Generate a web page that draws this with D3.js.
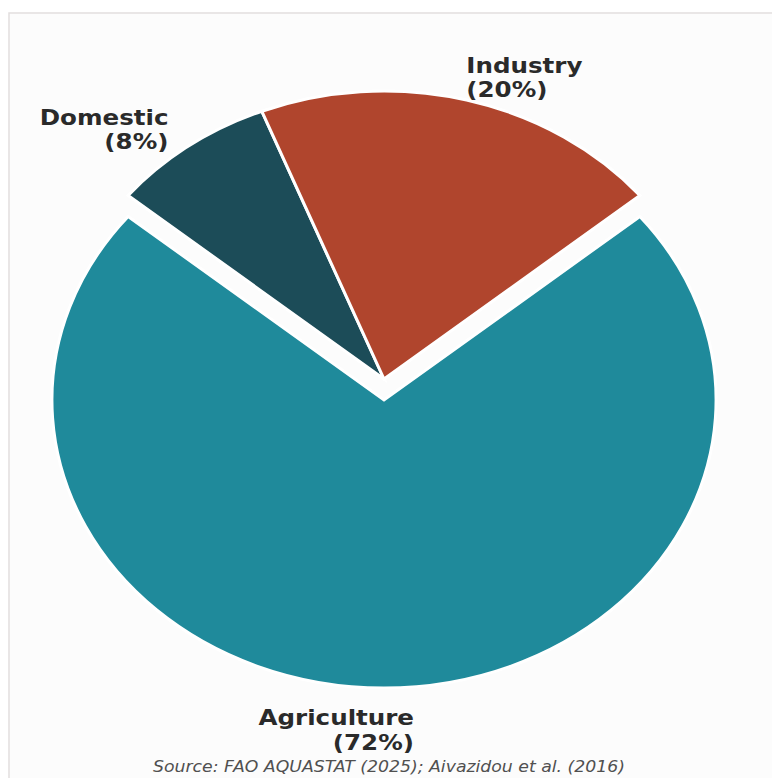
<!DOCTYPE html>
<html>
<head>
<meta charset="utf-8">
<script src="https://cdn.jsdelivr.net/npm/d3@7"></script>
<style>
  body { margin: 0; background: #fff; }
  svg { display: block; }
</style>
</head>
<body>
<div id="pie-chart"></div>
<script>
// water withdrawal shares by sector
const sectors = ["Domestic", "Industry", "Agriculture"]
const shares = [8, 20, 72]
const colors = ["#1c4c58", "#b0452d", "#1f8a9b"]
const exploded = [0, 0, 0.073]
const sourceNote = "Source: FAO AQUASTAT (2025); Aivazidou et al. (2016)"

const data = sectors.map((s, i) => ({ sector: s, share: shares[i], color: colors[i], explode: exploded[i] }))

const width = 772
const height = 778
const cx = 384
const cy = 379
const radius = 288
const sx = 1.153   // the picture is stretched sideways

const svg = d3.select("#pie-chart")
  .append("svg")
  .attr("width", width)
  .attr("height", height)

// faint frame of the original screenshot
svg.append("rect")
  .attr("x", 9)
  .attr("y", 13)
  .attr("width", width)
  .attr("height", height)
  .attr("fill", "#fcfcfc")
  .attr("stroke", "#e2dede")
  .attr("stroke-width", 1.5)

const pie = d3.pie()
  .value(d => d.share)
  .sort(null)
  .startAngle(-0.14 * 2 * Math.PI)

const arc = d3.arc()
  .innerRadius(0)
  .outerRadius(radius)

const g = svg.append("g")
  .attr("transform", `translate(${cx}, ${cy}) scale(${sx}, 1)`)

const arcs = pie(data)

// slices
g.selectAll("path")
  .data(arcs)
  .join("path")
  .attr("transform", d => {
    const a = (d.startAngle + d.endAngle) / 2
    const off = d.data.explode * radius
    return `translate(${Math.sin(a) * off}, ${-Math.cos(a) * off})`
  })
  .attr("d", arc)
  .attr("fill", d => d.data.color)
  .attr("stroke", "white")
  .attr("stroke-width", 3)
  .attr("vector-effect", "non-scaling-stroke")

// labels outside the pie
const labelDist = 1.13
const nudge = { Domestic: [5, 0], Industry: [-11, 0], Agriculture: [30, -9] }

const labels = svg.selectAll("text.label")
  .data(arcs)
  .join("text")
  .attr("class", "label")
  .attr("transform", d => {
    const a = (d.startAngle + d.endAngle) / 2
    const r = radius * (labelDist + d.data.explode)
    const x = cx + Math.sin(a) * r * sx + nudge[d.data.sector][0]
    const y = cy - Math.cos(a) * r + nudge[d.data.sector][1]
    return `translate(${x}, ${y}) scale(${sx}, 1)`
  })
  .attr("text-anchor", d => {
    const a = (d.startAngle + d.endAngle) / 2
    return Math.sin(a) > 0.001 ? "start" : "end"
  })
  .style("font-family", "DejaVu Sans, sans-serif")
  .style("font-weight", "bold")
  .style("font-size", "21.3px")
  .style("fill", "#2a2a2a")

labels.append("tspan")
  .attr("x", 0)
  .attr("y", 9)
  .text(d => d.data.sector)

labels.append("tspan")
  .attr("x", 0)
  .attr("dy", 24.5)
  .text(d => `(${d.data.share}%)`)

// source line
svg.append("text")
  .attr("transform", `translate(${cx + 5}, 772) scale(${sx}, 1)`)
  .attr("text-anchor", "middle")
  .style("font-family", "DejaVu Sans, sans-serif")
  .style("font-style", "italic")
  .style("font-size", "15px")
  .style("fill", "#505050")
  .text(sourceNote)
</script>
</body>
</html>
